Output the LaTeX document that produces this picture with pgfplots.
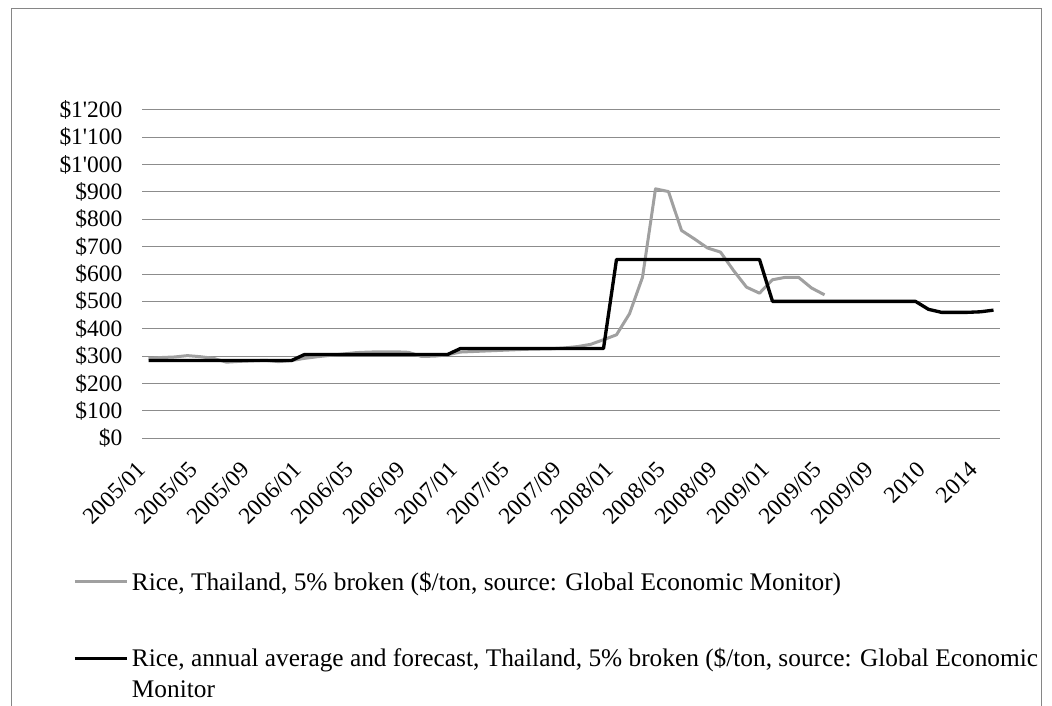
\documentclass[border=0pt]{standalone}
\usepackage{fontspec}
\setmainfont{Liberation Serif}
\usepackage{pgfplots}
\pgfplotsset{compat=1.18}
\definecolor{gridgray}{RGB}{140,140,140}
\definecolor{ricegray}{RGB}{160,160,160}
\definecolor{framegray}{RGB}{134,134,134}

\begin{document}
\begin{tikzpicture}
\useasboundingbox (0pt,0pt) rectangle (789pt,-529.5pt);
% chart frame (open at the bottom edge of the page)
\draw[framegray, line width=0.75pt] (8.25pt,-545pt) -- (8.25pt,-6.75pt) -- (780.75pt,-6.75pt) -- (780.75pt,-545pt);
\begin{axis}[
  at={(106.5pt,-328.725pt)}, anchor=south west,
  scale only axis, width=643.5pt, height=246.45pt,
  xmin=-0.5, xmax=65.5, ymin=0, ymax=1200,
  axis line style={draw=none},
  major tick length=0pt, tick style={draw=none},
  ytick={0,100,...,1200},
  yticklabels={\$0,\$100,\$200,\$300,\$400,\$500,\$600,\$700,\$800,\$900,
    \$1\textquotesingle 000,\$1\textquotesingle 100,\$1\textquotesingle 200},
  ymajorgrids, grid style={gridgray, line width=0.75pt},
  xtick={0,4,...,64},
  xticklabels={2005/01,2005/05,2005/09,2006/01,2006/05,2006/09,2007/01,2007/05,
    2007/09,2008/01,2008/05,2008/09,2009/01,2009/05,2009/09,2010,2014},
  /pgf/number format/assume math mode=true,
  tick label style={font=\fontsize{17.6}{21}\selectfont},
  yticklabel style={inner sep=0pt, xshift=-14.5pt},
  xticklabel style={inner sep=0pt, yshift=-24.75pt, xshift=-1pt, rotate=45, anchor=base east},
  legend style={at={(-0.0804,-0.3956)}, anchor=north west, draw=none, fill=none,
    inner sep=0pt, row sep=39.7pt, column sep=2.5pt,
    nodes={inner sep=0pt}, cells={anchor=base west},
    font=\fontsize{19}{23.25}\selectfont},
  legend image code/.code={\draw[#1] (0pt,6.4pt) -- (39pt,6.4pt);},
]
% monthly price, 2005/01 to 2009/05
\addplot[ricegray, line width=2.25pt, line join=round] coordinates {
 (0,292) (1,295) (2,297) (3,302) (4,298) (5,292) (6,278) (7,281) (8,283) (9,285)
 (10,280) (11,284) (12,292) (13,298) (14,303) (15,308) (16,313) (17,315) (18,316) (19,316)
 (20,314) (21,299) (22,300) (23,305) (24,315) (25,317) (26,319) (27,321) (28,323) (29,325)
 (30,326) (31,327) (32,330) (33,335) (34,343) (35,360) (36,378) (37,455) (38,588) (39,911)
 (40,901) (41,759) (42,728) (43,695) (44,680) (45,613) (46,552) (47,530) (48,579) (49,588)
 (50,588) (51,549) (52,524)
};
\addlegendentry{\strut Rice, Thailand, 5\% broken (\$/ton, source: Global Economic Monitor)}
% annual averages (held for each month) and yearly forecasts
\addplot[black, line width=2.5pt, line join=round] coordinates {
 (0,284) (1,284) (2,284) (3,284) (4,284) (5,284) (6,284) (7,284) (8,284) (9,284) (10,284) (11,284)
 (12,306) (13,306) (14,306) (15,306) (16,306) (17,306) (18,306) (19,306) (20,306) (21,306) (22,306) (23,306)
 (24,328) (25,328) (26,328) (27,328) (28,328) (29,328) (30,328) (31,328) (32,328) (33,328) (34,328) (35,328)
 (36,653) (37,653) (38,653) (39,653) (40,653) (41,653) (42,653) (43,653) (44,653) (45,653) (46,653) (47,653)
 (48,500) (49,500) (50,500) (51,500) (52,500) (53,500) (54,500) (55,500) (56,500) (57,500) (58,500) (59,500)
 (60,471) (61,460) (62,460) (63,460) (64,462) (65,468)
};
\addlegendentry{\begin{tabular}[t]{@{}l@{}}Rice, annual average and forecast, Thailand, 5\% broken (\$/ton, source: Global Economic\\Monitor\end{tabular}}
\end{axis}
\end{tikzpicture}
\end{document}
